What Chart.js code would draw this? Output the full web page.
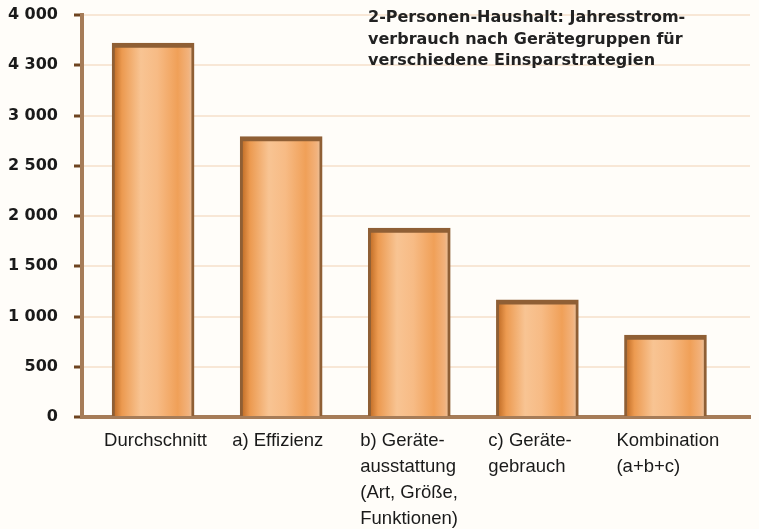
<!DOCTYPE html>
<html>
<head>
<meta charset="utf-8">
<script src="https://cdn.jsdelivr.net/npm/chart.js@4"></script>
<style>
  html, body { margin: 0; padding: 0; background: #fffdf9; }
  #wrap { width: 759px; height: 529px; position: relative; }
</style>
</head>
<body>
<div id="wrap"><canvas id="c"></canvas></div>
<script>
// categories (multi-line labels), values in kWh/year, y tick labels as printed
const categories = [
    ['Durchschnitt'],
    ['a) Effizienz'],
    ['b) Geräte-', 'ausstattung', '(Art, Größe,', 'Funktionen)'],
    ['c) Geräte-', 'gebrauch'],
    ['Kombination', '(a+b+c)'],
];
const values = [3720, 2790, 1880, 1165, 815];
const yTickLabels = ['0', '500', '1 000', '1 500', '2 000', '2 500', '3 000', '4 300', '4 000'];
const titleLines = [
    '2-Personen-Haushalt: Jahresstrom-',
    'verbrauch nach Gerätegruppen für',
    'verschiedene Einsparstrategien',
];

Chart.defaults.font.family = '"Liberation Sans", Arial, sans-serif';
Chart.defaults.plugins.legend.display = false;
Chart.defaults.plugins.tooltip.enabled = false;

// title drawn in the upper right of the plot
const titlePlugin = {
    id: 'cornerTitle',
    afterDraw(chart) {
        const ctx = chart.ctx;
        ctx.save();
        ctx.font = 'bold 16px "DejaVu Sans", sans-serif';
        ctx.fillStyle = '#222';
        ctx.textAlign = 'left';
        ctx.textBaseline = 'alphabetic';
        titleLines.forEach((t, i) => ctx.fillText(t, 368, 22 + i * 21.5));
        ctx.restore();
    },
};

function barFill(context) {
    const chart = context.chart;
    const xs = chart.scales.x;
    if (!xs || context.dataIndex === undefined) return '#f0a060';
    const cx = xs.getPixelForValue(context.dataIndex);
    if (!isFinite(cx)) return '#f0a060';
    const g = chart.ctx.createLinearGradient(cx - 41, 0, cx + 41, 0);
    g.addColorStop(0, '#b8641e');
    g.addColorStop(0.12, '#ec9a50');
    g.addColorStop(0.35, '#f8c493');
    g.addColorStop(0.55, '#f7bb85');
    g.addColorStop(0.8, '#f0a058');
    g.addColorStop(0.93, '#f2b27c');
    g.addColorStop(1, '#e6c4a4');
    return g;
}

new Chart(document.getElementById('c'), {
    type: 'bar',
    data: {
        datasets: [{
            data: values.map((v, i) => ({ x: i, y: v })),
            backgroundColor: barFill,
            borderColor: '#8f5f35',
            borderWidth: { left: 3, right: 3, top: 5, bottom: 0 },
            borderSkipped: 'bottom',
            barThickness: 82,
        }],
    },
    plugins: [titlePlugin],
    options: {
        responsive: true,
        maintainAspectRatio: false,
        animation: false,
        layout: { padding: { top: 15, right: 9, left: 0, bottom: 0 } },
        scales: {
            x: {
                type: 'linear',
                offset: false,
                min: -0.555,
                max: 4.66,
                afterFit(scale) {
                    scale.height = 112;
                    scale.paddingLeft = 0;
                    scale.paddingRight = 0;
                },
                grid: { display: false, drawTicks: false },
                border: { display: true, color: '#a67c58', width: 4 },
                ticks: {
                    stepSize: 1,
                    includeBounds: false,
                    align: 'start',
                    labelOffset: -49,
                    padding: 11,
                    color: '#1a1a1a',
                    font: { size: 18.5, lineHeight: '26px' },
                    callback: (v) => categories[v] || '',
                },
            },
            y: {
                min: 0,
                max: 4000,
                afterFit(scale) {
                    scale.width = 82;
                    scale.paddingTop = 0;
                    scale.paddingBottom = 0;
                },
                grid: {
                    color: 'rgba(240, 205, 170, 0.45)',
                    lineWidth: 2,
                    tickColor: '#6e4420',
                    tickLength: 8,
                    tickWidth: 3,
                },
                border: { display: true, color: '#a67c58', width: 4 },
                ticks: {
                    stepSize: 500,
                    padding: 16,
                    color: '#1a1a1a',
                    font: { family: '"DejaVu Sans", sans-serif', size: 16, weight: 'bold' },
                    callback: (v, i) => yTickLabels[i],
                },
            },
        },
    },
});
</script>
</body>
</html>
